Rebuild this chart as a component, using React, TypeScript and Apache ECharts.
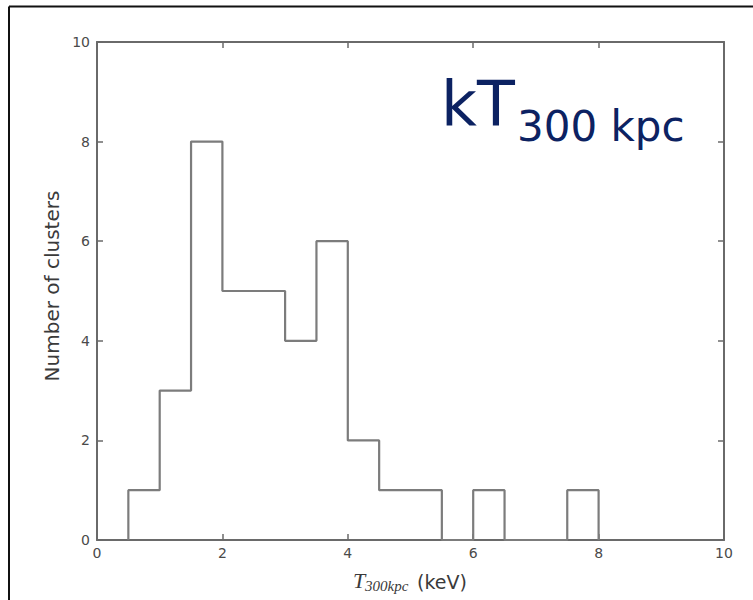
import React, { useEffect, useRef } from "react";
import * as echarts from "echarts";

// Histogram of cluster temperatures measured within 300 kpc
const binEdges = [0.5, 1, 1.5, 2, 2.5, 3, 3.5, 4, 4.5, 5, 5.5, 6, 6.5, 7, 7.5, 8];
const counts = [1, 3, 8, 5, 5, 4, 6, 2, 1, 1, 0, 1, 0, 0, 1];

const xTicks = [0, 2, 4, 6, 8, 10];
const yTicks = [0, 2, 4, 6, 8, 10];

const AXIS_GRAY = "#6a6a6a";
const LABEL_GRAY = "#4a4a4a";
const NAVY = "#0c2262";

function makeAxis(ticks: number[], position: string, showLabels: boolean) {
  return {
    type: "value",
    position,
    min: ticks[0],
    max: ticks[ticks.length - 1],
    interval: ticks[1] - ticks[0],
    axisLine: { show: true, onZero: false, lineStyle: { color: AXIS_GRAY, width: 2 } },
    axisTick: {
      show: true,
      inside: true,
      length: 6,
      lineStyle: { color: AXIS_GRAY, width: 1.5 },
    },
    splitLine: { show: false },
    axisLabel: {
      show: showLabels,
      inside: false,
      margin: position === "bottom" ? 6 : 7,
      color: LABEL_GRAY,
      fontFamily: "DejaVu Sans",
      fontSize: 14,
      formatter: (v: number) => String(v),
    },
  };
}

export default function App() {
  const ref = useRef<HTMLDivElement>(null);

  useEffect(() => {
    if (!ref.current) return;
    const chart = echarts.init(ref.current, null, { renderer: "svg" });

    // step outline: rise at each bin's left edge, fall back to zero after the last bin
    const outline: [number, number][] = [[binEdges[0], 0]];
    counts.forEach((c, i) => outline.push([binEdges[i], c]));
    outline.push([binEdges[binEdges.length - 1], 0]);

    chart.setOption({
      animation: false,
      backgroundColor: "#ffffff",
      grid: { left: 97, right: 29, top: 42, bottom: 60 },
      xAxis: [makeAxis(xTicks, "bottom", true), makeAxis(xTicks, "top", false)],
      yAxis: [makeAxis(yTicks, "left", true), makeAxis(yTicks, "right", false)],
      series: [
        {
          type: "line",
          xAxisIndex: 0,
          yAxisIndex: 0,
          step: "end",
          showSymbol: false,
          data: outline,
          lineStyle: { color: "#7c7c7c", width: 2.2 },
          z: 1,
        },
      ],
      graphic: [
        // outer frame edges
        { type: "line", shape: { x1: 9, y1: 6.5, x2: 753, y2: 6.5 }, style: { stroke: "#111", lineWidth: 2 } },
        { type: "line", shape: { x1: 9, y1: 6.5, x2: 9, y2: 600 }, style: { stroke: "#111", lineWidth: 2 } },
        // y axis title
        {
          type: "text",
          x: 52,
          y: 286,
          rotation: Math.PI / 2,
          style: {
            text: "Number of clusters",
            fill: "#3a3a3a",
            font: '20px "DejaVu Sans"',
            align: "center",
            verticalAlign: "middle",
          },
        },
        // x axis title
        {
          type: "text",
          x: 353,
          y: 580,
          style: {
            text: "T",
            fill: "#3a3a3a",
            font: 'italic 22px "Liberation Serif"',
            align: "left",
            verticalAlign: "middle",
          },
        },
        {
          type: "text",
          x: 365,
          y: 586,
          style: {
            text: "300kpc",
            fill: "#3a3a3a",
            font: 'italic 15px "Liberation Serif"',
            align: "left",
            verticalAlign: "middle",
          },
        },
        {
          type: "text",
          x: 417,
          y: 582,
          style: {
            text: "(keV)",
            fill: "#3a3a3a",
            font: '19px "DejaVu Sans"',
            align: "left",
            verticalAlign: "middle",
          },
        },
        // annotation
        {
          type: "text",
          x: 441,
          y: 103,
          style: {
            text: "kT",
            fill: NAVY,
            font: '62px "DejaVu Sans"',
            align: "left",
            verticalAlign: "middle",
          },
        },
        {
          type: "text",
          x: 517,
          y: 126,
          style: {
            text: "300 kpc",
            fill: NAVY,
            font: '42px "DejaVu Sans"',
            align: "left",
            verticalAlign: "middle",
          },
        },
      ],
    });

    return () => chart.dispose();
  }, []);

  return (
    <div
      ref={ref}
      style={{ position: "fixed", left: 0, top: 0, width: 753, height: 600 }}
    />
  );
}
